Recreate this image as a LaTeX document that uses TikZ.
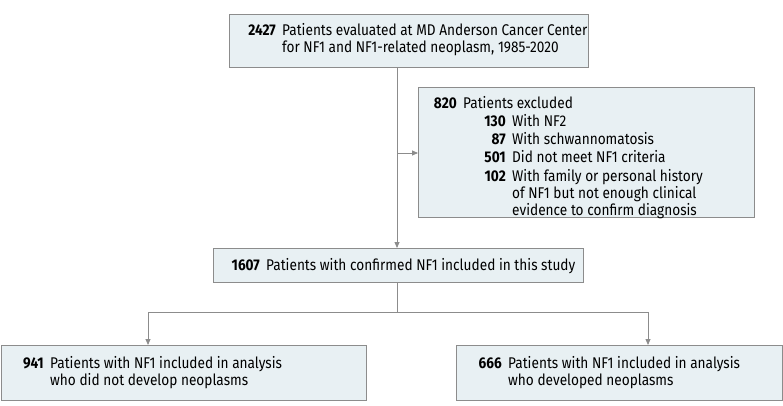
\documentclass[tikz,border=0pt]{standalone}
\usepackage{fontspec}
\setmainfont{Fira Sans}[FakeStretch=0.88]
\usetikzlibrary{arrows.meta}
\definecolor{boxfill}{HTML}{E8F0F3}
\definecolor{boxline}{HTML}{8C8C8C}
\tikzset{
 box/.style={draw=boxline,fill=boxfill,line width=0.8pt,inner sep=0pt},
 txt/.style={inner sep=0pt,anchor=base west,font=\fontsize{15.5}{17}\selectfont},
 num/.style={inner sep=0pt,anchor=base east,font=\fontsize{15.5}{17}\selectfont\bfseries},
 conn/.style={draw=boxline,line width=0.8pt},
 arr/.style={conn,-{Triangle[length=6pt,width=5pt]}}
}
\begin{document}
\begin{tikzpicture}[x=1pt,y=-1pt]
\useasboundingbox (0,0) rectangle (783,406);
% boxes
\node[box,minimum width=359,minimum height=53,anchor=north west] (top) at (229,14) {};
\node[box,minimum width=336,minimum height=130,anchor=north west] (excl) at (418,87) {};
\node[box,minimum width=370,minimum height=34,anchor=north west] (mid) at (213,248) {};
\node[box,minimum width=365,minimum height=55,anchor=north west] (bl) at (0.5,345) {};
\node[box,minimum width=326,minimum height=55,anchor=north west] (br) at (456,345) {};
% top text
\node[num] (t1n) at (276,36) {2427};
\node[txt] (t1) at (282,36) {Patients evaluated at MD Anderson Cancer Center};
\node[txt] (t2) at (282,53) {for NF1 and NF1-related neoplasm, 1985-2020};
% exclusion text
\node[num] (e0n) at (457,109) {820};
\node[txt] (e0) at (463,109) {Patients excluded};
\node[num] (e1n) at (506,127) {130};
\node[txt] (e1) at (512,127) {With NF2};
\node[num] (e2n) at (506,145) {87};
\node[txt] (e2) at (512,145) {With schwannomatosis};
\node[num] (e3n) at (506,163) {501};
\node[txt] (e3) at (512,163) {Did not meet NF1 criteria};
\node[num] (e4n) at (506,181) {102};
\node[txt] (e4) at (512,181) {With family or personal history};
\node[txt] (e5) at (512,198) {of NF1 but not enough clinical};
\node[txt] (e6) at (512,215) {evidence to confirm diagnosis};
% middle
\node[num] (mn) at (260,270) {1607};
\node[txt] (m) at (266,270) {Patients with confirmed NF1 included in this study};
% bottom
\node[num] (bln) at (44,368) {941};
\node[txt] (bl1) at (50,368) {Patients with NF1 included in analysis};
\node[txt] (bl2) at (50,385) {who did not develop neoplasms};
\node[num] (brn) at (502,368) {666};
\node[txt] (br1) at (508,368) {Patients with NF1 included in analysis};
\node[txt] (br2) at (508,385) {who developed neoplasms};
% connectors
\coordinate (sp) at (397,153);
\coordinate (lb) at (148,312);
\coordinate (rb) at (648,312);
\draw[arr] (top.south -| sp) -- (mid.north -| sp);
\draw[arr] (sp) -- (excl.west |- sp);
\draw[conn] (mid.south -| sp) -- (sp |- lb);
\draw[arr] (lb) -- (rb) -- (rb |- br.north);
\draw[arr] (rb) -- (lb) -- (lb |- bl.north);
\end{tikzpicture}
\end{document}
